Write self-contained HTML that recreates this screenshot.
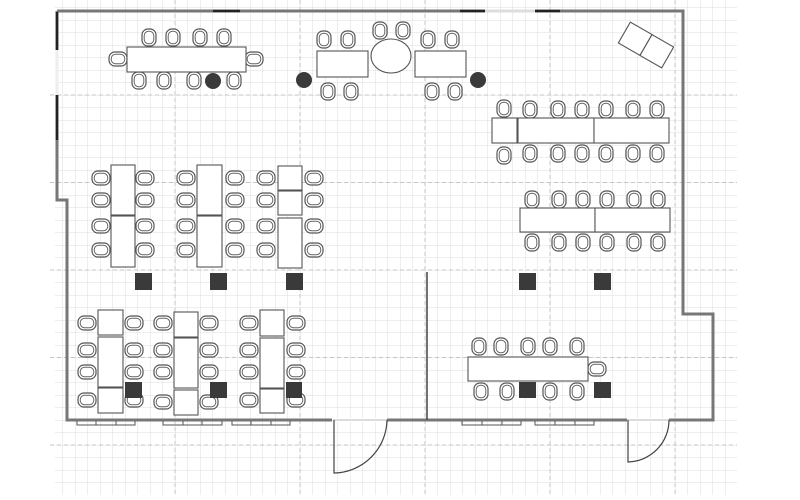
<!DOCTYPE html>
<html><head><meta charset="utf-8"><style>html,body{margin:0;padding:0;background:#fff}svg{display:block}</style></head>
<body>
<svg width="800" height="500" viewBox="0 0 800 500" xmlns="http://www.w3.org/2000/svg">
<defs>
<pattern id="minor" x="50" y="7.5" width="12.5" height="12.5" patternUnits="userSpaceOnUse">
<path d="M0 0H12.5M0 0V12.5" stroke="#dcdcdc" stroke-width="1" fill="none"/>
</pattern>
<g id="cv"><rect x="0" y="0" width="14" height="17" rx="6" fill="#fff" stroke="#555" stroke-width="1.2"/><rect x="2.2" y="2.2" width="9.6" height="12.6" rx="4.5" fill="#fff" stroke="#666" stroke-width="1"/></g>
<g id="ch"><rect x="0" y="0" width="18" height="14" rx="6" fill="#fff" stroke="#555" stroke-width="1.2"/><rect x="2.2" y="2.2" width="13.6" height="9.6" rx="4.5" fill="#fff" stroke="#666" stroke-width="1"/></g>
</defs>
<rect x="55" y="0" width="682" height="495" fill="url(#minor)"/>
<g stroke="#c4c4c4" stroke-dasharray="4,3" stroke-width="1">
<line x1="175" y1="0" x2="175" y2="495"/><line x1="300" y1="0" x2="300" y2="495"/><line x1="425" y1="0" x2="425" y2="495"/><line x1="550" y1="0" x2="550" y2="495"/><line x1="675" y1="0" x2="675" y2="495"/>
<line x1="50" y1="95" x2="737" y2="95"/><line x1="50" y1="182.5" x2="737" y2="182.5"/><line x1="50" y1="270" x2="737" y2="270"/><line x1="50" y1="357.5" x2="737" y2="357.5"/><line x1="50" y1="445" x2="737" y2="445"/>
</g>
<g fill="none" stroke="#777" stroke-width="3">
<path d="M57 11H683V314H713V420H387M332 420H67V200H57V11"/>
<path d="M627 420H669"/>
</g>
<path d="M387 420H627M669 420H713" stroke="#777" stroke-width="3" fill="none"/>
<line x1="333" y1="420" x2="387" y2="420" stroke="#fff" stroke-width="4"/>
<line x1="627" y1="420" x2="669" y2="420" stroke="#fff" stroke-width="4"/>
<line x1="333" y1="420" x2="387" y2="420" stroke="#bbb" stroke-width="1"/>
<line x1="627" y1="420" x2="669" y2="420" stroke="#bbb" stroke-width="1"/>
<g stroke="#222" stroke-width="2.5">
<line x1="213" y1="11" x2="240" y2="11"/><line x1="460" y1="11" x2="485" y2="11"/><line x1="535" y1="11" x2="560" y2="11"/>
<line x1="57" y1="12" x2="57" y2="50"/><line x1="57" y1="95" x2="57" y2="140"/>
</g>
<line x1="485" y1="11" x2="535" y2="11" stroke="#ddd" stroke-width="3"/>
<line x1="57" y1="50" x2="57" y2="95" stroke="#eee" stroke-width="3"/>
<line x1="427" y1="272" x2="427" y2="420" stroke="#444" stroke-width="1.5"/>
<g fill="none" stroke="#444" stroke-width="1.2">
<path d="M334 420V473A54 54 0 0 0 387 420"/>
<path d="M628 420V462A42 42 0 0 0 669 420"/>
</g>
<g fill="none" stroke="#555" stroke-width="1">
<path d="M77 421V425H135V421M96 421V425M116 421V425"/>
<path d="M163 421V425H222V421M183 421V425M202 421V425"/>
<path d="M232 421V425H290V421M251 421V425M271 421V425"/>
<path d="M462 421V425H521V421M482 421V425M502 421V425"/>
<path d="M535 421V425H594V421M555 421V425M575 421V425"/>
</g>
<g fill="#fff" stroke="#555" stroke-width="1.1">
<use href="#cv" x="142" y="29"/><use href="#cv" x="166" y="29"/><use href="#cv" x="193" y="29"/><use href="#cv" x="217" y="29"/>
<use href="#cv" x="132" y="72"/><use href="#cv" x="157" y="72"/><use href="#cv" x="187" y="72"/><use href="#cv" x="227" y="72"/>
<use href="#ch" x="109" y="52"/><use href="#ch" x="245" y="52"/>
<rect x="127" y="47" width="119" height="25"/>
<use href="#cv" x="317" y="31"/><use href="#cv" x="341" y="31"/><use href="#cv" x="373" y="22"/><use href="#cv" x="396" y="22"/><use href="#cv" x="421" y="31"/><use href="#cv" x="445" y="31"/>
<use href="#cv" x="321" y="83"/><use href="#cv" x="344" y="83"/><use href="#cv" x="425" y="83"/><use href="#cv" x="448" y="83"/>
<rect x="317" y="51" width="51" height="26"/><ellipse cx="391" cy="56" rx="20" ry="17"/><rect x="415" y="51" width="51" height="26"/>
<g transform="translate(646,45) rotate(30)"><rect x="-25" y="-12" width="25" height="24"/><rect x="0" y="-12" width="25" height="24"/></g>
<use href="#cv" x="497" y="100"/><use href="#cv" x="523" y="101"/><use href="#cv" x="551" y="101"/><use href="#cv" x="575" y="101"/><use href="#cv" x="599" y="101"/><use href="#cv" x="626" y="101"/><use href="#cv" x="650" y="101"/>
<use href="#cv" x="497" y="147"/><use href="#cv" x="523" y="145"/><use href="#cv" x="551" y="145"/><use href="#cv" x="575" y="145"/><use href="#cv" x="599" y="145"/><use href="#cv" x="626" y="145"/><use href="#cv" x="650" y="145"/>
<rect x="492" y="118" width="25" height="25"/><rect x="518" y="118" width="76" height="25"/><rect x="594" y="118" width="75" height="25"/>
<use href="#cv" x="525" y="191"/><use href="#cv" x="552" y="191"/><use href="#cv" x="576" y="191"/><use href="#cv" x="600" y="191"/><use href="#cv" x="627" y="191"/><use href="#cv" x="651" y="191"/>
<use href="#cv" x="525" y="234"/><use href="#cv" x="552" y="234"/><use href="#cv" x="576" y="234"/><use href="#cv" x="600" y="234"/><use href="#cv" x="627" y="234"/><use href="#cv" x="651" y="234"/>
<rect x="520" y="208" width="75" height="24"/><rect x="595" y="208" width="75" height="24"/>
<use href="#ch" x="92" y="171"/><use href="#ch" x="92" y="193"/><use href="#ch" x="92" y="219"/><use href="#ch" x="92" y="243"/>
<use href="#ch" x="136" y="171"/><use href="#ch" x="136" y="193"/><use href="#ch" x="136" y="219"/><use href="#ch" x="136" y="243"/>
<rect x="111" y="165" width="24" height="50"/><rect x="111" y="216" width="24" height="51"/>
<use href="#ch" x="177" y="171"/><use href="#ch" x="177" y="193"/><use href="#ch" x="177" y="219"/><use href="#ch" x="177" y="243"/>
<use href="#ch" x="226" y="171"/><use href="#ch" x="226" y="193"/><use href="#ch" x="226" y="219"/><use href="#ch" x="226" y="243"/>
<rect x="197" y="165" width="25" height="50"/><rect x="197" y="216" width="25" height="51"/>
<use href="#ch" x="257" y="171"/><use href="#ch" x="257" y="193"/><use href="#ch" x="257" y="219"/><use href="#ch" x="257" y="243"/>
<use href="#ch" x="305" y="171"/><use href="#ch" x="305" y="193"/><use href="#ch" x="305" y="219"/><use href="#ch" x="305" y="243"/>
<rect x="278" y="166" width="24" height="24"/><rect x="278" y="191" width="24" height="24"/><rect x="278" y="218" width="24" height="50"/>
<use href="#ch" x="78" y="316"/><use href="#ch" x="78" y="343"/><use href="#ch" x="78" y="365"/><use href="#ch" x="78" y="393"/>
<use href="#ch" x="125" y="316"/><use href="#ch" x="125" y="343"/><use href="#ch" x="125" y="365"/><use href="#ch" x="125" y="393"/>
<rect x="98" y="310" width="25" height="25"/><rect x="98" y="337" width="25" height="50"/><rect x="98" y="388" width="25" height="25"/>
<use href="#ch" x="154" y="316"/><use href="#ch" x="154" y="343"/><use href="#ch" x="154" y="365"/><use href="#ch" x="154" y="395"/>
<use href="#ch" x="200" y="316"/><use href="#ch" x="200" y="343"/><use href="#ch" x="200" y="365"/><use href="#ch" x="200" y="395"/>
<rect x="174" y="312" width="24" height="25"/><rect x="174" y="338" width="24" height="50"/><rect x="174" y="390" width="24" height="25"/>
<use href="#ch" x="240" y="316"/><use href="#ch" x="240" y="343"/><use href="#ch" x="240" y="365"/><use href="#ch" x="240" y="393"/>
<use href="#ch" x="287" y="316"/><use href="#ch" x="287" y="343"/><use href="#ch" x="287" y="365"/><use href="#ch" x="287" y="393"/>
<rect x="260" y="310" width="24" height="26"/><rect x="260" y="338" width="24" height="50"/><rect x="260" y="389" width="24" height="24"/>
<use href="#cv" x="472" y="338"/><use href="#cv" x="494" y="338"/><use href="#cv" x="521" y="338"/><use href="#cv" x="543" y="338"/><use href="#cv" x="570" y="338"/>
<use href="#cv" x="474" y="383"/><use href="#cv" x="500" y="383"/><use href="#cv" x="543" y="383"/><use href="#cv" x="570" y="383"/>
<use href="#ch" x="588" y="362"/>
<rect x="468" y="357" width="120" height="24"/>
</g>
<g fill="#3a3a3a">
<circle cx="213" cy="81" r="8"/><circle cx="304" cy="80" r="8"/><circle cx="478" cy="80" r="8"/>
<rect x="135" y="273" width="17" height="17"/><rect x="210" y="273" width="17" height="17"/><rect x="286" y="273" width="17" height="17"/>
<rect x="519" y="273" width="17" height="17"/><rect x="594" y="273" width="17" height="17"/>
<rect x="125" y="382" width="17" height="16"/><rect x="210" y="382" width="17" height="16"/><rect x="286" y="382" width="16" height="16"/>
<rect x="519" y="382" width="17" height="16"/><rect x="594" y="382" width="17" height="16"/>
</g>
</svg>
</body></html>
